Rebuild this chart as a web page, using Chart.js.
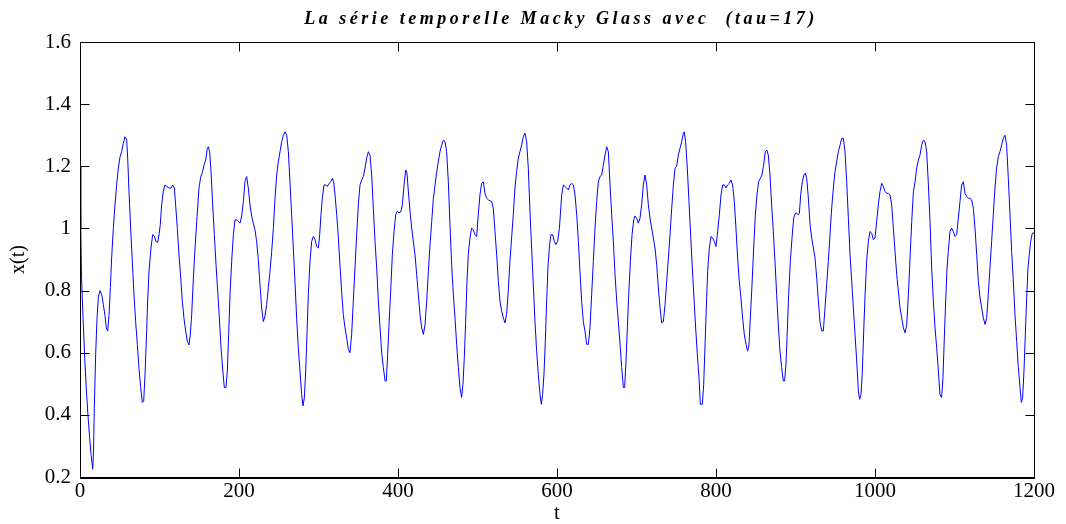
<!DOCTYPE html>
<html>
<head>
<meta charset="utf-8">
<script src="https://cdn.jsdelivr.net/npm/chart.js@4.4.1/dist/chart.umd.min.js"></script>
<style>
  html, body { margin: 0; padding: 0; background: #ffffff; }
  #wrap { width: 1066px; height: 524px; position: relative; }
</style>
</head>
<body>
<div id="wrap"><canvas id="mg" width="1066" height="524"></canvas></div>
<script>
// Labels
const chartTitle = 'La série temporelle Macky Glass avec  (tau=17)';
const xAxisLabel = 't';
const yAxisLabel = 'x(t)';

// Axis ticks and their labels
const xTicks = [0, 200, 400, 600, 800, 1000, 1200];
const xTickLabels = ['0', '200', '400', '600', '800', '1000', '1200'];
const yTicks = [0.2, 0.4, 0.6, 0.8, 1.0, 1.2, 1.4, 1.6];
const yTickLabels = ['0.2', '0.4', '0.6', '0.8', '1', '1.2', '1.4', '1.6'];

// Time samples t
const tValues = [
  0, 1, 2, 4, 6, 8, 10, 12, 14, 16, 17, 18, 19.7, 21.4, 23.1, 25.2, 27.3, 29.4, 31.4, 33.1,
  34.8, 36.5, 38.2, 39.8, 41.9, 44.0, 46.1, 48.2, 50.3, 52.4, 54.5, 56.6, 58.7, 60.0, 61.6, 63.7,
  65.8, 67.9, 70.0, 72.1, 74.2, 76.3, 78.4, 80.1, 81.8, 83.4, 85.1, 86.8, 89.3, 91.4, 93.5, 95.6,
  97.7, 99.4, 101.0, 102.7, 104.8, 106.9, 109.4, 111.9, 114.5, 116.6, 118.7, 120.3, 122.4, 124.5,
  127.0, 128.7, 130.8, 132.9, 135.0, 137.1, 138.8, 140.5, 142.6, 144.7, 146.8, 149.7, 151.8, 153.9,
  156.0, 158.1, 160.2, 161.4, 163.1, 164.8, 166.9, 169.0, 171.1, 173.2, 175.3, 177.4, 179.5, 181.5,
  183.6, 185.3, 187.0, 188.7, 190.8, 192.9, 195.0, 197.1, 199.2, 201.3, 203.4, 205.5, 207.5, 209.6,
  211.7, 213.8, 215.9, 218.0, 220.1, 222.2, 224.3, 226.4, 228.5, 230.6, 232.7, 234.8, 236.9, 239.0,
  241.1, 243.2, 245.3, 247.4, 249.5, 251.6, 253.7, 255.8, 257.9, 260.0, 262.1, 264.1, 266.2, 268.3,
  270.4, 272.5, 274.6, 276.7, 278.8, 280.5, 282.2, 283.9, 285.5, 287.2, 289.3, 291.4, 293.5, 295.6,
  297.7, 299.8, 301.5, 303.1, 304.8, 306.9, 309.0, 311.1, 313.2, 315.3, 317.4, 319.1, 320.8, 322.9,
  325.0, 327.0, 329.1, 331.2, 333.3, 335.4, 337.5, 339.6, 341.7, 343.8, 345.9, 348.0, 350.1, 352.2,
  354.3, 356.4, 358.5, 360.6, 362.7, 364.8, 366.9, 369.0, 371.1, 373.2, 375.3, 377.4, 379.5, 381.6,
  383.7, 385.3, 387.0, 388.7, 390.8, 392.9, 395.0, 397.1, 399.2, 401.3, 403.4, 405.5, 407.6, 409.7,
  411.3, 413.0, 415.1, 417.2, 419.3, 421.4, 423.5, 425.6, 427.7, 429.8, 431.9, 434.0, 436.1, 438.2,
  440.3, 442.4, 444.5, 446.6, 448.6, 450.7, 452.8, 454.9, 457.0, 459.1, 461.2, 463.3, 465.4, 467.5,
  469.6, 471.7, 473.8, 475.9, 478.0, 480.0, 481.7, 483.4, 485.1, 486.8, 488.4, 490.5, 492.6, 494.7,
  496.8, 498.9, 501.0, 503.1, 505.2, 507.3, 509.4, 511.5, 513.6, 515.7, 517.8, 519.9, 522.0, 524.1,
  526.2, 528.3, 530.4, 532.5, 534.6, 536.6, 538.7, 540.8, 542.9, 545.0, 547.1, 549.2, 551.3, 553.4,
  555.5, 557.6, 559.7, 561.8, 563.9, 566.0, 568.1, 570.2, 572.3, 574.4, 576.5, 578.6, 580.3, 581.9,
  583.6, 585.3, 587.0, 588.6, 590.7, 592.4, 594.5, 596.6, 598.7, 600.8, 603.0, 604.2, 605.9, 608.0,
  610.1, 612.2, 614.3, 616.4, 618.5, 620.6, 622.7, 624.8, 626.9, 628.9, 631.0, 633.1, 635.2, 637.3,
  639.4, 641.5, 643.6, 645.7, 647.8, 649.9, 652.0, 654.1, 656.2, 658.3, 660.4, 662.5, 664.6, 666.7,
  668.8, 670.9, 673.0, 675.1, 677.2, 679.3, 681.4, 683.5, 685.1, 686.8, 688.5, 690.2, 692.3, 694.4,
  696.5, 698.1, 700.2, 702.3, 704.4, 706.5, 708.6, 710.7, 712.8, 714.9, 717.0, 719.1, 721.2, 723.3,
  725.4, 727.5, 729.6, 731.7, 733.8, 735.9, 738.0, 740.1, 742.2, 744.3, 746.4, 748.5, 750.5, 752.6,
  754.7, 756.8, 758.9, 760.1, 761.8, 763.9, 766.0, 768.1, 770.2, 772.3, 774.4, 776.5, 778.6, 780.3,
  782.8, 784.5, 786.1, 787.8, 789.5, 791.6, 793.7, 795.8, 797.9, 800.0, 802.1, 804.2, 806.3, 808.4,
  810.5, 812.6, 814.6, 816.7, 818.8, 820.9, 823.0, 825.1, 827.2, 829.3, 831.4, 833.5, 835.6, 837.7,
  839.8, 841.5, 843.2, 845.3, 847.4, 849.5, 851.5, 853.6, 855.7, 857.8, 859.9, 862.0, 864.1, 865.8,
  867.9, 870.0, 872.1, 874.2, 876.3, 878.4, 880.5, 882.6, 884.7, 886.3, 888.0, 889.7, 891.4, 893.5,
  895.6, 897.7, 899.8, 901.5, 903.6, 904.9, 906.5, 908.6, 910.7, 912.4, 914.1, 916.2, 918.3, 920.4,
  922.5, 924.6, 926.7, 928.8, 930.8, 932.9, 935.0, 937.1, 939.2, 941.3, 943.4, 945.5, 947.6, 949.7,
  951.8, 953.9, 956.0, 958.1, 960.2, 962.3, 964.4, 966.5, 968.6, 970.7, 972.8, 974.9, 977.0, 979.1,
  980.7, 982.4, 984.1, 985.8, 987.5, 989.5, 991.6, 993.7, 995.8, 997.9, 1000.0, 1002.1, 1004.2, 1006.3,
  1008.4, 1010.5, 1012.6, 1014.7, 1016.8, 1018.9, 1021.0, 1023.1, 1025.2, 1027.3, 1029.4, 1031.5, 1033.6, 1035.7,
  1037.8, 1039.9, 1042.0, 1044.1, 1046.2, 1048.3, 1050.4, 1052.5, 1054.5, 1056.6, 1058.7, 1060.8, 1062.9, 1065.0,
  1067.0, 1069.2, 1071.3, 1073.4, 1075.5, 1077.6, 1079.7, 1081.7, 1083.8, 1085.5, 1087.2, 1088.9, 1090.6, 1092.2,
  1094.3, 1096.4, 1098.5, 1100.6, 1102.7, 1104.8, 1106.9, 1109.0, 1111.1, 1113.2, 1115.3, 1117.4, 1119.5, 1121.6,
  1123.7, 1125.8, 1127.9, 1130.0, 1132.1, 1134.2, 1136.3, 1138.4, 1140.5, 1142.5, 1144.6, 1146.7, 1148.8, 1150.9,
  1153.0, 1155.1, 1157.2, 1159.3, 1161.4, 1163.5, 1165.6, 1167.7, 1169.8, 1171.9, 1174.0, 1176.1, 1178.2, 1180.3,
  1182.4, 1184.1, 1185.7, 1187.4, 1189.1, 1190.8, 1192.4, 1194.1, 1195.8, 1197.9, 1200
];

// Series values x(t)
const xValues = [
  1.200, 1.000, 0.840, 0.700, 0.580, 0.480, 0.400, 0.330, 0.270, 0.225, 0.280, 0.420, 0.595, 0.710, 0.780, 0.800, 0.787, 0.755, 0.720, 0.680,
  0.670, 0.720, 0.810, 0.905, 1.000, 1.076, 1.140, 1.194, 1.230, 1.247, 1.274, 1.295, 1.285, 1.226, 1.120, 1.000,
  0.894, 0.787, 0.700, 0.627, 0.550, 0.488, 0.440, 0.445, 0.530, 0.637, 0.766, 0.862, 0.937, 0.980, 0.975, 0.958,
  0.955, 0.980, 1.012, 1.076, 1.120, 1.140, 1.135, 1.130, 1.130, 1.140, 1.130, 1.076, 1.000, 0.916,
  0.830, 0.766, 0.710, 0.670, 0.637, 0.625, 0.660, 0.723, 0.840, 0.937, 1.022, 1.130, 1.165, 1.180,
  1.204, 1.220, 1.258, 1.263, 1.247, 1.183, 1.076, 0.980, 0.883, 0.798, 0.712, 0.616, 0.547, 0.488,
  0.488, 0.541, 0.659, 0.787, 0.894, 0.980, 1.028, 1.028, 1.022, 1.017, 1.040, 1.087, 1.150, 1.167,
  1.130, 1.076, 1.040, 1.017, 0.996, 0.958, 0.900, 0.819, 0.744, 0.700, 0.718, 0.755, 0.810, 0.862,
  0.926, 1.000, 1.097, 1.172, 1.215, 1.247, 1.279, 1.300, 1.311, 1.300, 1.247, 1.150, 1.044, 0.937,
  0.830, 0.712, 0.616, 0.541, 0.466, 0.429, 0.455, 0.541, 0.659, 0.787, 0.894, 0.958, 0.974, 0.964,
  0.942, 0.937, 0.980, 1.044, 1.097, 1.140, 1.140, 1.135, 1.145, 1.150, 1.161, 1.150, 1.108, 1.044,
  0.969, 0.883, 0.798, 0.723, 0.680, 0.648, 0.611, 0.600, 0.659, 0.766, 0.873, 0.980, 1.076, 1.140,
  1.156, 1.167, 1.194, 1.226, 1.247, 1.236, 1.172, 1.065, 0.958, 0.873, 0.766, 0.680, 0.600, 0.552,
  0.509, 0.509, 0.595, 0.690, 0.798, 0.916, 0.990, 1.044, 1.055, 1.050, 1.053, 1.076, 1.140, 1.188,
  1.178, 1.120, 1.055, 1.001, 0.958, 0.916, 0.851, 0.787, 0.723, 0.680, 0.659, 0.690, 0.766, 0.862,
  0.948, 1.022, 1.097, 1.140, 1.180, 1.215, 1.247, 1.268, 1.284, 1.280, 1.247, 1.150, 1.012, 0.883,
  0.787, 0.712, 0.627, 0.552, 0.488, 0.456, 0.498, 0.584, 0.700, 0.830, 0.916, 0.969, 1.001, 0.996,
  0.980, 0.974, 1.044, 1.108, 1.145, 1.150, 1.113, 1.097, 1.092, 1.089, 1.086, 1.065, 0.990, 0.916,
  0.830, 0.766, 0.734, 0.712, 0.696, 0.723, 0.798, 0.894, 0.969, 1.044, 1.130, 1.183, 1.226, 1.247,
  1.268, 1.295, 1.306, 1.280, 1.194, 1.055, 0.937, 0.819, 0.700, 0.605, 0.530, 0.466, 0.434, 0.466,
  0.530, 0.637, 0.766, 0.873, 0.948, 0.980, 0.980, 0.958, 0.948, 0.958, 1.000, 1.044, 1.108, 1.140,
  1.135, 1.130, 1.124, 1.140, 1.145, 1.140, 1.108, 1.044, 0.958, 0.862, 0.766, 0.700, 0.670, 0.627,
  0.627, 0.680, 0.787, 0.894, 1.001, 1.087, 1.150, 1.167, 1.172, 1.204, 1.236, 1.263, 1.247, 1.140,
  1.044, 0.958, 0.851, 0.766, 0.700, 0.627, 0.552, 0.488, 0.488, 0.573, 0.680, 0.787, 0.894, 0.980,
  1.028, 1.040, 1.033, 1.017, 1.033, 1.076, 1.140, 1.172, 1.140, 1.076, 1.033, 1.001, 0.969, 0.937,
  0.883, 0.809, 0.744, 0.696, 0.700, 0.755, 0.830, 0.905, 0.980, 1.065, 1.140, 1.194, 1.200, 1.236,
  1.258, 1.279, 1.306, 1.311, 1.279, 1.194, 1.087, 0.980, 0.873, 0.776, 0.680, 0.595, 0.520, 0.434,
  0.434, 0.498, 0.616, 0.744, 0.862, 0.937, 0.974, 0.969, 0.958, 0.942, 0.990, 1.044, 1.108, 1.140,
  1.140, 1.130, 1.140, 1.145, 1.156, 1.140, 1.087, 1.001, 0.905, 0.830, 0.776, 0.712, 0.659, 0.627,
  0.605, 0.627, 0.712, 0.819, 0.937, 1.044, 1.108, 1.150, 1.161, 1.172, 1.204, 1.247, 1.252, 1.236,
  1.172, 1.076, 0.990, 0.894, 0.787, 0.690, 0.605, 0.552, 0.509, 0.509, 0.563, 0.670, 0.787, 0.894,
  0.969, 1.033, 1.049, 1.049, 1.044, 1.049, 1.108, 1.150, 1.172, 1.178, 1.161, 1.097, 1.012, 0.969,
  0.937, 0.905, 0.840, 0.766, 0.700, 0.670, 0.670, 0.744, 0.819, 0.894, 0.980, 1.065, 1.130, 1.183,
  1.215, 1.247, 1.268, 1.290, 1.290, 1.247, 1.150, 1.033, 0.916, 0.830, 0.744, 0.659, 0.573, 0.477,
  0.450, 0.466, 0.541, 0.670, 0.787, 0.894, 0.958, 0.990, 0.985, 0.964, 0.969, 1.022, 1.076, 1.119,
  1.145, 1.135, 1.119, 1.113, 1.113, 1.108, 1.076, 1.001, 0.926, 0.851, 0.798, 0.744, 0.712, 0.680,
  0.664, 0.690, 0.787, 0.905, 1.022, 1.119, 1.150, 1.195, 1.220, 1.236, 1.268, 1.284, 1.280, 1.247,
  1.150, 1.022, 0.873, 0.766, 0.680, 0.616, 0.541, 0.466, 0.456, 0.520, 0.648, 0.766, 0.873, 0.926,
  0.990, 1.001, 0.990, 0.974, 0.980, 1.033, 1.087, 1.140, 1.150, 1.113, 1.103, 1.097, 1.097, 1.092,
  1.065, 1.001, 0.916, 0.830, 0.776, 0.744, 0.712, 0.691, 0.712, 0.787, 0.873, 0.958, 1.044, 1.130,
  1.194, 1.231, 1.247, 1.268, 1.290, 1.300, 1.268, 1.161, 1.044, 0.926, 0.830, 0.723, 0.637, 0.552,
  0.488, 0.440, 0.455, 0.541, 0.659, 0.776, 0.873, 0.916, 0.958, 0.985, 0.985
];

const serif = '"Liberation Serif", "Times New Roman", serif';
const tickFont = { family: serif, size: 21 };

const seriesPoints = tValues.map((t, i) => ({ x: t, y: xValues[i] }));

// Boxed frame with inward ticks on all four sides, plus the spaced italic title
const framePlugin = {
  id: 'frameAndTitle',
  afterDraw(chart) {
    const { ctx, chartArea: a, scales } = chart;
    const xs = scales.x, ys = scales.y;
    const L = 9;
    const left = Math.round(a.left) + 0.5;
    const right = Math.round(a.right) + 0.5;
    const top = Math.round(a.top) + 0.5;
    const bottom = Math.round(a.bottom) + 0.5;
    ctx.save();
    ctx.strokeStyle = '#000000';
    ctx.lineWidth = 1;
    ctx.beginPath();
    ctx.moveTo(left, bottom); ctx.lineTo(left, top); ctx.lineTo(right, top); ctx.lineTo(right, bottom);
    xTicks.forEach(v => {
      const px = Math.round(xs.getPixelForValue(v)) + 0.5;
      ctx.moveTo(px, bottom); ctx.lineTo(px, bottom - L);
      ctx.moveTo(px, top); ctx.lineTo(px, top + L);
    });
    yTicks.forEach(v => {
      const py = Math.round(ys.getPixelForValue(v)) + 0.5;
      ctx.moveTo(left, py); ctx.lineTo(left + L, py);
      ctx.moveTo(right, py); ctx.lineTo(right - L, py);
    });
    ctx.stroke();
    ctx.lineWidth = 2;
    ctx.beginPath();
    ctx.moveTo(left - 0.5, bottom + 0.5); ctx.lineTo(right + 0.5, bottom + 0.5);
    ctx.stroke();

    ctx.fillStyle = '#000000';
    ctx.font = 'italic bold 18px ' + serif;
    ctx.letterSpacing = '3.5px';
    ctx.textAlign = 'center';
    ctx.textBaseline = 'alphabetic';
    ctx.fillText(chartTitle, (a.left + a.right) / 2 + 4, 24);
    ctx.restore();
  }
};

new Chart(document.getElementById('mg'), {
  type: 'line',
  data: {
    datasets: [{
      data: seriesPoints,
      borderColor: '#0000ff',
      borderWidth: 1,
      pointRadius: 0,
      tension: 0,
      fill: false
    }]
  },
  options: {
    responsive: false,
    devicePixelRatio: 1,
    animation: false,
    events: [],
    layout: { padding: { top: 42, right: 32, left: 0, bottom: 0 } },
    plugins: { legend: { display: false }, tooltip: { enabled: false }, title: { display: false } },
    scales: {
      x: {
        type: 'linear',
        min: 0,
        max: 1200,
        afterBuildTicks: s => { s.ticks = xTicks.map(v => ({ value: v })); },
        afterFit: s => { s.height = 47; },
        ticks: {
          callback: (v, i) => xTickLabels[i],
          font: tickFont,
          color: '#000000',
          padding: 2,
          maxRotation: 0,
          autoSkip: false
        },
        grid: { display: false, drawTicks: false },
        border: { display: false },
        title: {
          display: true,
          text: xAxisLabel,
          color: '#000000',
          font: { family: serif, size: 21, lineHeight: 1 },
          padding: { top: 0, bottom: 0 }
        }
      },
      y: {
        type: 'linear',
        min: 0.2,
        max: 1.6,
        afterBuildTicks: s => { s.ticks = yTicks.map(v => ({ value: v })); },
        afterFit: s => { s.width = 80; },
        ticks: {
          callback: (v, i) => yTickLabels[i],
          font: tickFont,
          color: '#000000',
          padding: 9,
          autoSkip: false
        },
        grid: { display: false, drawTicks: false },
        border: { display: false },
        title: {
          display: true,
          text: yAxisLabel,
          color: '#000000',
          font: { family: serif, size: 20, lineHeight: 1.2 },
          padding: { top: 7, bottom: 0 }
        }
      }
    }
  },
  plugins: [framePlugin]
});
</script>
</body>
</html>
